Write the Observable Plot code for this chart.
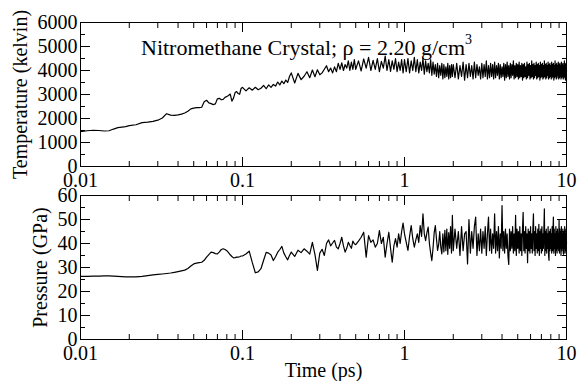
<!DOCTYPE html>
<html>
<head>
<meta charset="utf-8">
<script src="https://cdn.jsdelivr.net/npm/d3@7"></script>
<script src="https://cdn.jsdelivr.net/npm/@observablehq/plot@0.6"></script>
<style>
  body { margin: 0; background: #fff; }
  #wrap { position: relative; width: 577px; height: 381px; overflow: hidden; font-family: "Liberation Serif", "Times New Roman", serif; color: #000; }
  #wrap svg { position: absolute; left: 0; top: 0; }
  #title { position: absolute; left: 141px; top: 37px; font-size: 22px; line-height: 22px; white-space: nowrap; z-index: 5; }
  #title .sup { position: relative; top: -11px; font-size: 14px; }
</style>
</head>
<body>
<div id="wrap">
  <div id="title">Nitromethane Crystal; ρ = 2.20 g/cm<span class="sup">3</span></div>
</div>
<script>
// ---- data ----
const time = [
  0.010,0.011,0.012,0.013,0.014,0.015,0.016,0.017,0.018,0.019,
  0.020,0.022,0.024,0.026,0.028,0.030,0.032,0.034,0.036,0.038,
  0.040,0.042,0.044,0.046,0.048,0.050,0.052,0.054,0.056,0.058,
  0.060,0.062,0.064,0.066,0.068,0.070,0.072,0.074,0.076,0.078,
  0.080,0.082,0.084,0.086,0.088,0.090,0.092,0.094,0.096,0.098,
  0.100,0.105,0.110,0.115,0.120,0.125,0.130,0.135,0.140,0.145,
  0.150,0.155,0.160,0.165,0.170,0.175,0.180,0.185,0.190,0.195,
  0.20,0.21,0.22,0.23,0.24,0.25,0.26,0.27,0.28,0.29,
  0.30,0.31,0.32,0.33,0.34,0.35,0.36,0.37,0.38,0.39,
  0.40,0.41,0.42,0.43,0.44,0.45,0.46,0.47,0.48,0.49,
  0.50,0.52,0.54,0.56,0.58,0.60,0.62,0.64,0.66,0.68,
  0.70,0.72,0.74,0.76,0.78,0.80,0.82,0.84,0.86,0.88,
  0.90,0.92,0.94,0.96,0.98,
  1.000,1.025,1.050,1.075,1.100,1.125,1.150,1.175,1.200,1.225,
  1.250,1.275,1.300,1.325,1.350,1.375,1.400,1.425,1.450,1.475,
  1.500,1.525,1.550,1.575,1.600,1.625,1.650,1.675,1.700,1.725,
  1.750,1.775,1.800,1.825,1.850,1.875,1.900,1.925,1.950,1.975,
  2.00,2.05,2.10,2.15,2.20,2.25,2.30,2.35,2.40,2.45,
  2.50,2.55,2.60,2.65,2.70,2.75,2.80,2.85,2.90,2.95,
  3.00,3.05,3.10,3.15,3.20,3.25,3.30,3.35,3.40,3.45,
  3.50,3.55,3.60,3.65,3.70,3.75,3.80,3.85,3.90,3.95,
  4.00,4.05,4.10,4.15,4.20,4.25,4.30,4.35,4.40,4.45,
  4.50,4.55,4.60,4.65,4.70,4.75,4.80,4.85,4.90,4.95,
  5.00,5.05,5.10,5.15,5.20,5.25,5.30,5.35,5.40,5.45,
  5.50,5.55,5.60,5.65,5.70,5.75,5.80,5.85,5.90,5.95,
  6.00,6.05,6.10,6.15,6.20,6.25,6.30,6.35,6.40,6.45,
  6.50,6.55,6.60,6.65,6.70,6.75,6.80,6.85,6.90,6.95,
  7.00,7.05,7.10,7.15,7.20,7.25,7.30,7.35,7.40,7.45,
  7.50,7.55,7.60,7.65,7.70,7.75,7.80,7.85,7.90,7.95,
  8.00,8.05,8.10,8.15,8.20,8.25,8.30,8.35,8.40,8.45,
  8.50,8.55,8.60,8.65,8.70,8.75,8.80,8.85,8.90,8.95,
  9.00,9.05,9.10,9.15,9.20,9.25,9.30,9.35,9.40,9.45,
  9.50,9.55,9.60,9.65,9.70,9.75,9.80,9.85,9.90,9.95,
  10.00
];

const temperature = [
  1450,1490,1510,1500,1480,1490,1560,1620,1640,1660,
  1700,1740,1830,1850,1880,1930,2020,2200,2140,2130,
  2150,2180,2230,2300,2400,2430,2450,2450,2470,2700,
  2760,2650,2620,2580,2610,2820,2840,2780,2800,2880,
  2920,2960,3020,2720,2850,3080,3120,3040,3010,3250,
  3300,3150,3280,3180,3300,3200,3260,3380,3240,3400,
  3300,3420,3350,3520,3400,3560,3450,3600,3500,3750,
  3900,3480,3880,3620,3760,3950,3700,4020,3740,4030,
  3820,3900,4050,4200,3950,4100,3900,4150,3950,4300,
  4050,4320,4000,4250,4100,4400,4000,4350,4050,4450,
  4050,4400,3980,4480,4100,4550,4000,4420,4050,4500,
  3950,4380,4100,4600,4000,4450,3960,4400,4050,4500,
  3950,4350,4000,4450,3900,
  4450,3950,4500,3900,4400,4000,4550,3950,4450,3900,
  4350,4000,4500,3850,4400,3950,4300,3900,4450,3800,
  4350,3850,4250,3750,4300,3700,4200,3800,4300,3650,
  4250,3700,4150,3750,4300,3650,4200,3700,4250,3750,
  4250,3700,4300,3650,4200,3750,4350,3600,4250,3700,
  4300,3750,4200,3650,4350,3700,4250,3800,4150,3650,
  4300,3700,4250,3750,4400,3650,4200,3700,4300,3750,
  4250,3650,4350,3700,4200,3800,4300,3650,4250,3700,
  4150,3750,4300,3600,4250,3700,4350,3750,4200,3650,
  4300,3700,4250,3800,4400,3650,4200,3700,4300,3750,
  4250,3650,4350,3700,4200,3750,4300,3600,4250,3700,
  4300,3750,4150,3650,4350,3700,4250,3800,4300,3650,
  4200,3700,4400,3750,4250,3650,4300,3700,4200,3800,
  4350,3650,4250,3700,4300,3750,4200,3600,4350,3700,
  4250,3750,4300,3650,4200,3700,4400,3750,4250,3650,
  4300,3700,4200,3800,4350,3650,4250,3700,4300,3750,
  4200,3650,4350,3700,4250,3750,4300,3600,4200,3700,
  4400,3750,4250,3650,4300,3700,4200,3800,4350,3650,
  4250,3700,4300,3750,4200,3650,4350,3700,4250,3750,
  4300,3650,4200,3700,4400,3750,4250,3600,4300,3700,
  4000
];

const pressure = [
  26.3,26.3,26.4,26.4,26.5,26.5,26.4,26.3,26.2,26.1,
  26.1,26.1,26.3,26.6,26.9,27.1,27.3,27.5,27.7,28.0,
  28.3,28.6,28.9,29.6,30.6,31.5,31.8,32.0,32.2,33.0,
  34.3,35.4,36.4,36.2,35.8,35.7,36.5,37.5,37.8,37.5,
  37.0,36.2,35.3,34.6,34.0,34.1,34.3,34.3,34.5,34.8,
  34.8,35.6,36.8,32.0,27.8,28.2,29.5,33.0,36.3,36.0,
  35.2,32.9,34.5,36.4,37.5,38.8,36.0,34.5,33.2,35.0,
  36.4,34.6,37.2,36.2,37.8,36.8,35.6,40.5,35.5,28.8,
  36.0,37.6,35.0,40.0,41.5,39.0,40.2,41.3,38.5,37.8,
  40.0,42.6,39.0,36.4,38.0,40.5,39.2,38.0,41.0,39.9,
  39.5,41.0,42.6,44.7,34.3,43.3,40.5,41.5,38.5,40.0,
  45.4,40.0,42.6,34.3,40.0,44.7,38.0,32.2,39.0,42.0,
  38.5,44.0,40.0,45.0,48.5,
  44.0,40.5,37.1,43.0,47.5,42.0,38.5,41.5,44.0,40.5,
  47.5,43.0,52.4,44.0,41.2,44.5,46.8,40.0,36.0,32.9,
  38.0,44.5,47.5,42.0,37.1,39.5,45.0,38.5,35.7,44.0,
  36.5,45.5,37.0,46.0,35.5,44.5,38.0,47.0,36.0,51.7,
  37,46,38,45,35,47,37,44,45,31.5,
  50,36,45,38,47,51,35,44,37,46,
  36,45,38,47,35,44,51,37,46,36,
  44,38,52.4,36,45,37,47,34,44,38,
  55.8,37,45,36,46,38,44,35,31.3,46,
  37,45,38,47,36,44,37,51.7,35,46,
  38,45,36,47,37,44,35,46,53,37,
  45,36,47,38,44,32,46,37,45,36,
  47,38,44,36,46,52.4,37,45,35,47,
  38,44,36,46,37,48,35,45,38,46,
  36,47,37,44,38,46,54.4,35,45,37,
  46,36,44,38,47,35,33,45,37,46,
  38,44,36,47,37,45,51,36,46,38,
  44,35,47,37,45,36,46,38,44,37,
  50,36,46,38,45,35,47,37,44,38,
  46,36,35.5,45,38,47,36,44,37,46,
  40
];

const xTicks = [0.01, 0.1, 1, 10];
const xMinorTicks = [0.02,0.03,0.04,0.05,0.06,0.07,0.08,0.09,
                     0.2,0.3,0.4,0.5,0.6,0.7,0.8,0.9,
                     2,3,4,5,6,7,8,9];
const tempTicks = [0, 1000, 2000, 3000, 4000, 5000, 6000];
const tempMinorTicks = [500, 1500, 2500, 3500, 4500, 5500];
const pressTicks = [0, 10, 20, 30, 40, 50, 60];
const pressMinorTicks = [5, 15, 25, 35, 45, 55];

// ---- build ----
const rows = time.map((t, i) => ({time: t, temperature: temperature[i], pressure: pressure[i]}));
const fmt = d => String(d);
const blank = () => "";

function panel({key, yDomain, yMajor, yMinor, yLabel, yLabelOffset, mt, mb, xLabel}) {
  return Plot.plot({
    width: 577,
    height: 381,
    marginLeft: 80,
    marginRight: 11,
    marginTop: mt,
    marginBottom: mb,
    style: {
      fontFamily: "'Liberation Serif', 'Times New Roman', serif",
      fontSize: "20px",
      background: "transparent",
      color: "black",
      overflow: "visible"
    },
    x: {type: "log", domain: [0.01, 10]},
    y: {domain: yDomain},
    marks: [
      Plot.line(rows, {x: "time", y: key, stroke: "black", strokeWidth: 1.2}),
      Plot.frame({stroke: "black", strokeWidth: 1}),
      Plot.axisX({ticks: xTicks, tickFormat: fmt, tickSize: 0, tickPadding: 6,
                  label: xLabel, labelAnchor: "center", labelOffset: 37, labelArrow: "none"}),
      Plot.axisX({ticks: xTicks, tickFormat: blank, tickSize: -9, label: null}),
      Plot.axisX({ticks: xMinorTicks, tickFormat: blank, tickSize: -5, label: null}),
      Plot.axisX({anchor: "top", ticks: xTicks, tickFormat: blank, tickSize: -9, label: null}),
      Plot.axisX({anchor: "top", ticks: xMinorTicks, tickFormat: blank, tickSize: -5, label: null}),
      Plot.axisY({ticks: yMajor, tickFormat: fmt, tickSize: 0, tickPadding: 3,
                  label: yLabel, labelAnchor: "center", labelOffset: yLabelOffset, labelArrow: "none"}),
      Plot.axisY({ticks: yMajor, tickFormat: blank, tickSize: -10, label: null}),
      Plot.axisY({ticks: yMinor, tickFormat: blank, tickSize: -5, label: null}),
      Plot.axisY({anchor: "right", ticks: yMajor, tickFormat: blank, tickSize: -10, label: null}),
      Plot.axisY({anchor: "right", ticks: yMinor, tickFormat: blank, tickSize: -5, label: null})
    ]
  });
}

const wrap = document.getElementById("wrap");
wrap.appendChild(panel({
  key: "temperature", yDomain: [0, 6000], yMajor: tempTicks, yMinor: tempMinorTicks,
  yLabel: "Temperature (kelvin)", yLabelOffset: 68, mt: 22, mb: 215, xLabel: null
}));
wrap.appendChild(panel({
  key: "pressure", yDomain: [0, 60], yMajor: pressTicks, yMinor: pressMinorTicks,
  yLabel: "Pressure (GPa)", yLabelOffset: 48, mt: 195, mb: 42, xLabel: "Time (ps)"
}));
</script>
</body>
</html>
